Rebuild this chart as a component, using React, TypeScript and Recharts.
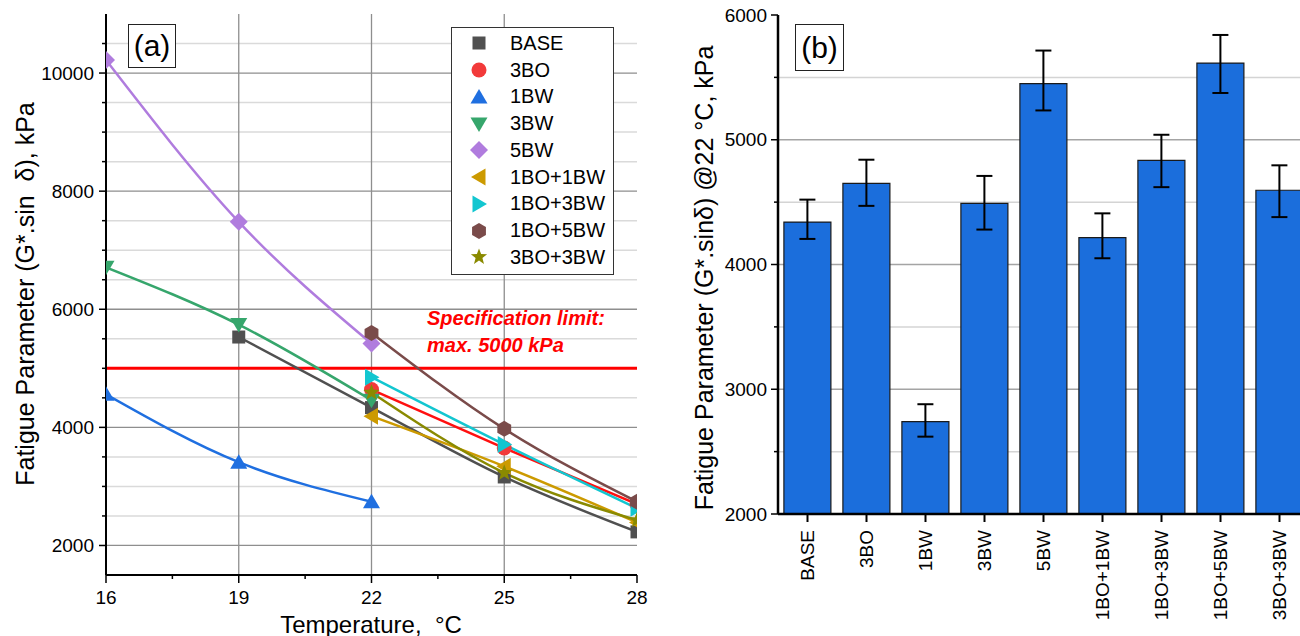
import React from 'react';
import {
  LineChart, Line, XAxis, YAxis, CartesianGrid, ReferenceLine, Legend,
  BarChart, Bar, ErrorBar,
} from 'recharts';

const FONT = '"Liberation Sans", Arial, Helvetica, sans-serif';

// ---- panel (a): fatigue parameter vs temperature (kPa) ----
const tBase = [19, 22, 25, 28];
const gBase = [5530, 4335, 3160, 2230];
const t3BO = [22, 25, 28];
const g3BO = [4640, 3650, 2700];
const t1BW = [16, 19, 22];
const g1BW = [4560, 3410, 2740];
const t3BW = [16, 19, 22];
const g3BW = [6710, 5740, 4460];
const t5BW = [16, 19, 22];
const g5BW = [10220, 7480, 5420];
const t1BO1BW = [22, 25, 28];
const g1BO1BW = [4190, 3340, 2390];
const t1BO3BW = [22, 25, 28];
const g1BO3BW = [4850, 3710, 2630];
const t1BO5BW = [22, 25, 28];
const g1BO5BW = [5600, 3975, 2740];
const t3BO3BW = [22, 25, 28];
const g3BO3BW = [4590, 3230, 2430];

const xTicksA = [16, 17.5, 19, 20.5, 22, 23.5, 25, 26.5, 28];
const xLabelsA = [16, 19, 22, 25, 28];
const yTicksA = [2000, 2500, 3000, 3500, 4000, 4500, 5000, 5500, 6000, 6500, 7000, 7500, 8000, 8500, 9000, 9500, 10000, 10500];
const yLabelsA = [2000, 4000, 6000, 8000, 10000];
const yMinorGridA = [2500, 3000, 3500, 4500, 5000, 5500, 6500, 7000, 7500, 8500, 9000, 9500, 10500];
const xMajorGridA = [19, 22, 25];
const specLimit = 5000;

// ---- panel (b): fatigue parameter @22 °C ----
const mixes = ['BASE', '3BO', '1BW', '3BW', '5BW', '1BO+1BW', '1BO+3BW', '1BO+5BW', '3BO+3BW'];
const mean22 = [4340, 4650, 2740, 4490, 5450, 4215, 4835, 5615, 4595];
const errUp = [180, 190, 140, 220, 265, 195, 205, 225, 200];
const errDown = [135, 180, 120, 210, 215, 165, 215, 240, 215];
const yTicksB = [2000, 2500, 3000, 3500, 4000, 4500, 5000, 5500, 6000];
const yLabelsB = [2000, 3000, 4000, 5000, 6000];
const yMinorGridB = [2500, 3500, 4500, 5500];
const yMajorGridB = [3000, 4000, 5000];

type Shape = 'square' | 'circle' | 'up' | 'down' | 'diamond' | 'left' | 'right' | 'hexagon' | 'star';

const series: { name: string; t: number[]; g: number[]; color: string; shape: Shape }[] = [
  { name: 'BASE', t: tBase, g: gBase, color: '#505050', shape: 'square' },
  { name: '3BO', t: t3BO, g: g3BO, color: '#f23a3a', shape: 'circle' },
  { name: '1BW', t: t1BW, g: g1BW, color: '#1f6fe0', shape: 'up' },
  { name: '3BW', t: t3BW, g: g3BW, color: '#36a66c', shape: 'down' },
  { name: '5BW', t: t5BW, g: g5BW, color: '#b07cde', shape: 'diamond' },
  { name: '1BO+1BW', t: t1BO1BW, g: g1BO1BW, color: '#cc9a00', shape: 'left' },
  { name: '1BO+3BW', t: t1BO3BW, g: g1BO3BW, color: '#12c6d0', shape: 'right' },
  { name: '1BO+5BW', t: t1BO5BW, g: g1BO5BW, color: '#7a4b4a', shape: 'hexagon' },
  { name: '3BO+3BW', t: t3BO3BW, g: g3BO3BW, color: '#8a8a00', shape: 'star' },
];

const lineColor: Record<string, string> = { '3BO': '#ff1010' };

const barData = mixes.map((m, i) => ({ mix: m, mean: mean22[i], err: [errDown[i], errUp[i]] }));

function Marker({ shape, cx, cy, fill }: { shape: Shape; cx: number; cy: number; fill: string }) {
  const poly = (pts: number[][]) => (
    <polygon points={pts.map((p) => `${cx + p[0]},${cy + p[1]}`).join(' ')} fill={fill} />
  );
  switch (shape) {
    case 'square':
      return <rect x={cx - 6.5} y={cy - 6.5} width={13} height={13} fill={fill} />;
    case 'circle':
      return <circle cx={cx} cy={cy} r={7.5} fill={fill} />;
    case 'up':
      return poly([[0, -8], [8.5, 6.5], [-8.5, 6.5]]);
    case 'down':
      return poly([[0, 8], [8.5, -6.5], [-8.5, -6.5]]);
    case 'diamond':
      return poly([[0, -9], [9, 0], [0, 9], [-9, 0]]);
    case 'left':
      return poly([[-8, 0], [6.5, -8.5], [6.5, 8.5]]);
    case 'right':
      return poly([[8, 0], [-6.5, -8.5], [-6.5, 8.5]]);
    case 'hexagon': {
      const pts = [0, 1, 2, 3, 4, 5].map((k) => {
        const a = (Math.PI / 3) * k - Math.PI / 2;
        return [8 * Math.cos(a), 8 * Math.sin(a)];
      });
      return poly(pts);
    }
    case 'star': {
      const pts = Array.from({ length: 10 }, (_, k) => {
        const r = k % 2 === 0 ? 8.5 : 3.6;
        const a = (Math.PI / 5) * k - Math.PI / 2;
        return [r * Math.cos(a), r * Math.sin(a)];
      });
      return poly(pts);
    }
    default:
      return <circle cx={cx} cy={cy} r={7} fill={fill} />;
  }
}

function LegendBox() {
  return (
    <div
      style={{
        border: '1.5px solid #333', background: '#fff', width: 163, boxSizing: 'border-box',
        padding: '2px 0 3px 0', fontFamily: FONT,
      }}
    >
      {series.map((s) => (
        <div key={s.name} style={{ display: 'flex', alignItems: 'center', height: 26.75 }}>
          <svg width={56} height={24} style={{ flex: 'none' }}>
            <Marker shape={s.shape} cx={27} cy={12} fill={s.color} />
          </svg>
          <span style={{ fontSize: 20, color: '#000', marginLeft: 2 }}>{s.name}</span>
        </div>
      ))}
    </div>
  );
}

function LeftYTick(props: any) {
  const { x, y, payload } = props;
  const major = yLabelsA.includes(payload.value);
  return (
    <g>
      <line x1={x - (major ? 7 : 4)} x2={x} y1={y} y2={y} stroke="#000" strokeWidth={1.5} />
      {major && (
        <text x={x - 12} y={y} textAnchor="end" dominantBaseline="central" fontSize={19} fill="#000" fontFamily={FONT}>
          {payload.value}
        </text>
      )}
    </g>
  );
}

function BottomXTickA(props: any) {
  const { x, y, payload } = props;
  const major = xLabelsA.includes(payload.value);
  return (
    <g>
      <line x1={x} x2={x} y1={y} y2={y + (major ? 8 : 4)} stroke="#000" strokeWidth={1.5} />
      {major && (
        <text x={x} y={y + 22} textAnchor="middle" dominantBaseline="central" fontSize={19} fill="#000" fontFamily={FONT}>
          {payload.value}
        </text>
      )}
    </g>
  );
}

function RightYTick(props: any) {
  const { x, y, payload } = props;
  const major = yLabelsB.includes(payload.value);
  return (
    <g>
      <line x1={x - (major ? 7 : 4)} x2={x} y1={y} y2={y} stroke="#000" strokeWidth={1.5} />
      {major && (
        <text x={x - 11} y={y} textAnchor="end" dominantBaseline="central" fontSize={19} fill="#000" fontFamily={FONT}>
          {payload.value}
        </text>
      )}
    </g>
  );
}

function CatTick(props: any) {
  const { x, y, payload } = props;
  const ty = y + 16;
  return (
    <g>
      <line x1={x} x2={x} y1={y} y2={y + 8} stroke="#000" strokeWidth={2} />
      <text
        x={x} y={ty} transform={`rotate(-90 ${x} ${ty})`} textAnchor="end" dy="0.35em"
        fontSize={19} fill="#000" fontFamily={FONT}
      >
        {payload.value}
      </text>
    </g>
  );
}

function VTitle({ text, cx, cy, size }: { text: string; cx: number; cy: number; size: number }) {
  return (
    <text
      x={cx} y={cy} transform={`rotate(-90 ${cx} ${cy})`} textAnchor="middle" dominantBaseline="central"
      fontSize={size} fill="#000" fontFamily={FONT} style={{ whiteSpace: 'pre' }}
    >
      {text}
    </text>
  );
}

function SpecLabel(props: any) {
  const vb = props.viewBox || {};
  const x = (vb.x ?? 106) + 321;
  const y = vb.y ?? 368;
  return (
    <text fontFamily={FONT} fontSize={20} fontWeight="bold" fontStyle="italic" fill="#ff0000">
      <tspan x={x} y={y - 43}>Specification limit:</tspan>
      <tspan x={x} y={y - 16}>max. 5000 kPa</tspan>
    </text>
  );
}

const boxLabel: React.CSSProperties = {
  position: 'absolute', border: '1.5px solid #222', background: '#fff', boxSizing: 'border-box',
  fontFamily: FONT, fontSize: 30, color: '#000', display: 'flex', alignItems: 'center', justifyContent: 'center',
};

function PanelA() {
  return (
    <div style={{ position: 'absolute', left: 0, top: 0 }}>
      <LineChart width={660} height={636} margin={{ top: 14, right: 23, bottom: 0, left: 0 }}>
        <CartesianGrid horizontalValues={yMinorGridA} vertical={false} stroke="#dadada" strokeWidth={1.5} fill="none" />
        <CartesianGrid horizontalValues={yLabelsA} verticalValues={xMajorGridA} stroke="#8e8e8e" strokeWidth={1.3} fill="none" />
        <XAxis
          dataKey="x" type="number" domain={[16, 28]} ticks={xTicksA} interval={0} allowDataOverflow
          height={61} tickSize={0} tickMargin={0} tickLine={false} tick={<BottomXTickA />}
          axisLine={{ stroke: '#000', strokeWidth: 2 }}
          label={() => (
            <text x={371} y={624} textAnchor="middle" dominantBaseline="central" fontSize={24} fill="#000" fontFamily={FONT} style={{ whiteSpace: 'pre' }}>
              {'Temperature,  °C'}
            </text>
          )}
        />
        <XAxis xAxisId="top" orientation="top" type="number" domain={[16, 28]} height={0} tick={false} tickLine={false} axisLine={{ stroke: '#000', strokeWidth: 2 }} />
        <YAxis
          type="number" domain={[1500, 11000]} ticks={yTicksA} interval={0} allowDataOverflow width={106}
          tickSize={0} tickMargin={0} tickLine={false} tick={<LeftYTick />}
          axisLine={{ stroke: '#000', strokeWidth: 2 }}
          label={() => <VTitle text={'Fatigue Parameter (G*.sin  δ), kPa'} cx={25} cy={294} size={25} />}
        />
        <YAxis yAxisId="right" orientation="right" type="number" domain={[1500, 11000]} width={0} tick={false} tickLine={false} axisLine={{ stroke: '#000', strokeWidth: 2 }} />
        <ReferenceLine y={specLimit} stroke="#ff0000" strokeWidth={3} label={<SpecLabel />} />
        {series.map((s) => (
          <Line
            key={s.name}
            data={s.t.map((t, i) => ({ x: t, y: s.g[i] }))}
            dataKey="y"
            name={s.name}
            type="monotone"
            stroke={lineColor[s.name] || s.color}
            strokeWidth={2.5}
            isAnimationActive={false}
            activeDot={false}
            dot={(p: any) => <Marker key={`${s.name}-${p.index}`} shape={s.shape} cx={p.cx} cy={p.cy} fill={s.color} />}
          />
        ))}
        <Legend
          layout="vertical" align="center" verticalAlign="middle"
          content={() => <LegendBox />}
          wrapperStyle={{ position: 'absolute', left: 451, top: 27, width: 'auto', height: 'auto' }}
        />
      </LineChart>
      <div style={{ ...boxLabel, left: 128, top: 24, width: 48, height: 44 }}>(a)</div>
    </div>
  );
}

function PanelB() {
  return (
    <div style={{ position: 'absolute', left: 660, top: 0 }}>
      <BarChart width={660} height={636} data={barData} margin={{ top: 15, right: 11, bottom: 0, left: 0 }} barCategoryGap="10%">
        <CartesianGrid horizontalValues={yMinorGridB} vertical={false} stroke="#d4d4d4" strokeWidth={1.5} fill="none" />
        <CartesianGrid horizontalValues={yMajorGridB} vertical={false} stroke="#a4a4a4" strokeWidth={1.5} fill="none" />
        <XAxis
          dataKey="mix" interval={0} height={122} tickSize={0} tickMargin={0} tickLine={false} tick={<CatTick />}
          axisLine={{ stroke: '#000', strokeWidth: 2.5 }}
        />
        <XAxis xAxisId="top" dataKey="mix" orientation="top" height={0} tick={false} tickLine={false} axisLine={{ stroke: '#000', strokeWidth: 2.5 }} />
        <YAxis
          type="number" domain={[2000, 6000]} ticks={yTicksB} interval={0} allowDataOverflow width={118}
          tickSize={0} tickMargin={0} tickLine={false} tick={<RightYTick />}
          axisLine={{ stroke: '#000', strokeWidth: 2.5 }}
          label={() => <VTitle text={'Fatigue Parameter (G*.sinδ) @22 °C, kPa'} cx={44} cy={278} size={25} />}
        />
        <Bar dataKey="mean" fill="#1b6edc" stroke="#1a1a1a" strokeWidth={1.2} isAnimationActive={false}>
          <ErrorBar dataKey="err" width={8} strokeWidth={2} stroke="#000" direction="y" />
        </Bar>
      </BarChart>
      <div style={{ ...boxLabel, left: 135, top: 24, width: 49, height: 47 }}>(b)</div>
    </div>
  );
}

export default function App() {
  return (
    <div style={{ position: 'absolute', left: 0, top: 0, width: 1300, height: 636, overflow: 'hidden', background: '#fff', fontFamily: FONT }}>
      <PanelA />
      <PanelB />
    </div>
  );
}
